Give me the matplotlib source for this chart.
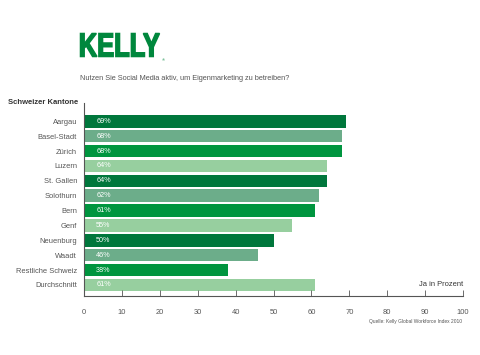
import matplotlib.pyplot as plt
from matplotlib.textpath import TextPath
from matplotlib.patches import PathPatch
from matplotlib.font_manager import FontProperties
from matplotlib.transforms import Affine2D

# Daten
kantone = ["Aargau", "Basel-Stadt", "Zürich", "Luzern", "St. Gallen", "Solothurn",
           "Bern", "Genf", "Neuenburg", "Waadt", "Restliche Schweiz", "Durchschnitt"]
werte = [69, 68, 68, 64, 64, 62, 61, 55, 50, 46, 38, 61]
xticks = [0, 10, 20, 30, 40, 50, 60, 70, 80, 90, 100]

# Farben wiederholen sich alle vier Balken
palette = ["#00773c", "#6cad8a", "#00953f", "#97cf9f"]
farben = [palette[i % 4] for i in range(len(werte))]

plt.rcParams["font.family"] = ["Liberation Sans", "DejaVu Sans"]
grau = "#555555"
W, H = 480, 355

fig = plt.figure(figsize=(4.8, 3.55), dpi=100)
ax = fig.add_axes([84 / W, 1 - 296 / H, 379 / W, 193 / H])

pos = list(range(len(werte)))
ax.barh(pos, werte, height=0.84, color=farben)
for p, w in zip(pos, werte):
    ax.text(3.2, p, f"{w}%", color="white", fontsize=5.2, va="center", ha="left")

ax.set_xlim(0, 100)
ax.set_ylim(11.74, -1.23)
ax.set_yticks(pos)
ax.set_yticklabels(kantone, fontsize=5.4, color=grau)
ax.tick_params(axis="y", length=0, pad=5)
ax.set_xticks(xticks)
ax.set_xticklabels([str(t) for t in xticks], fontsize=5.4, color=grau)
ax.tick_params(axis="x", direction="in", length=4, width=0.6, color=grau, pad=9)
for s in ["top", "right"]:
    ax.spines[s].set_visible(False)
for s in ["left", "bottom"]:
    ax.spines[s].set_color(grau)
    ax.spines[s].set_linewidth(0.8)

ax.text(-1.6, -1.23, "Schweizer Kantone", fontsize=5.5, color="#333333",
        fontweight="bold", ha="right", va="center")
ax.text(100, 11.0, "Ja in Prozent", fontsize=5.4, color="#333333", ha="right", va="center")

# Logo: fette Schrift, horizontal gestaucht
tp = TextPath((0, 0), "KELLY", size=10, prop=FontProperties(family="Liberation Sans", weight="bold"))
bb = tp.get_extents()
sx = (79 / W) / bb.width
sy = (23 / H) / bb.height
trans = Affine2D().translate(-bb.x0, -bb.y0).scale(sx, sy).translate(80.5 / W, 1 - 56.5 / H)
logo = PathPatch(trans.transform_path(tp), facecolor="#00873d", edgecolor="#00873d",
                 linewidth=1.1, joinstyle="miter", transform=fig.transFigure)
fig.add_artist(logo)
fig.text(162 / W, 1 - 60 / H, "®", fontsize=3, color="#00873d", ha="left", va="center")

fig.text(80 / W, 1 - 78 / H, "Nutzen Sie Social Media aktiv, um Eigenmarketing zu betreiben?",
         fontsize=5.3, color=grau, ha="left", va="center")
fig.text(462 / W, 1 - 322 / H, "Quelle: Kelly Global Workforce Index 2010",
         fontsize=3.5, color=grau, ha="right", va="center")

fig.savefig("out.png", dpi=100)
